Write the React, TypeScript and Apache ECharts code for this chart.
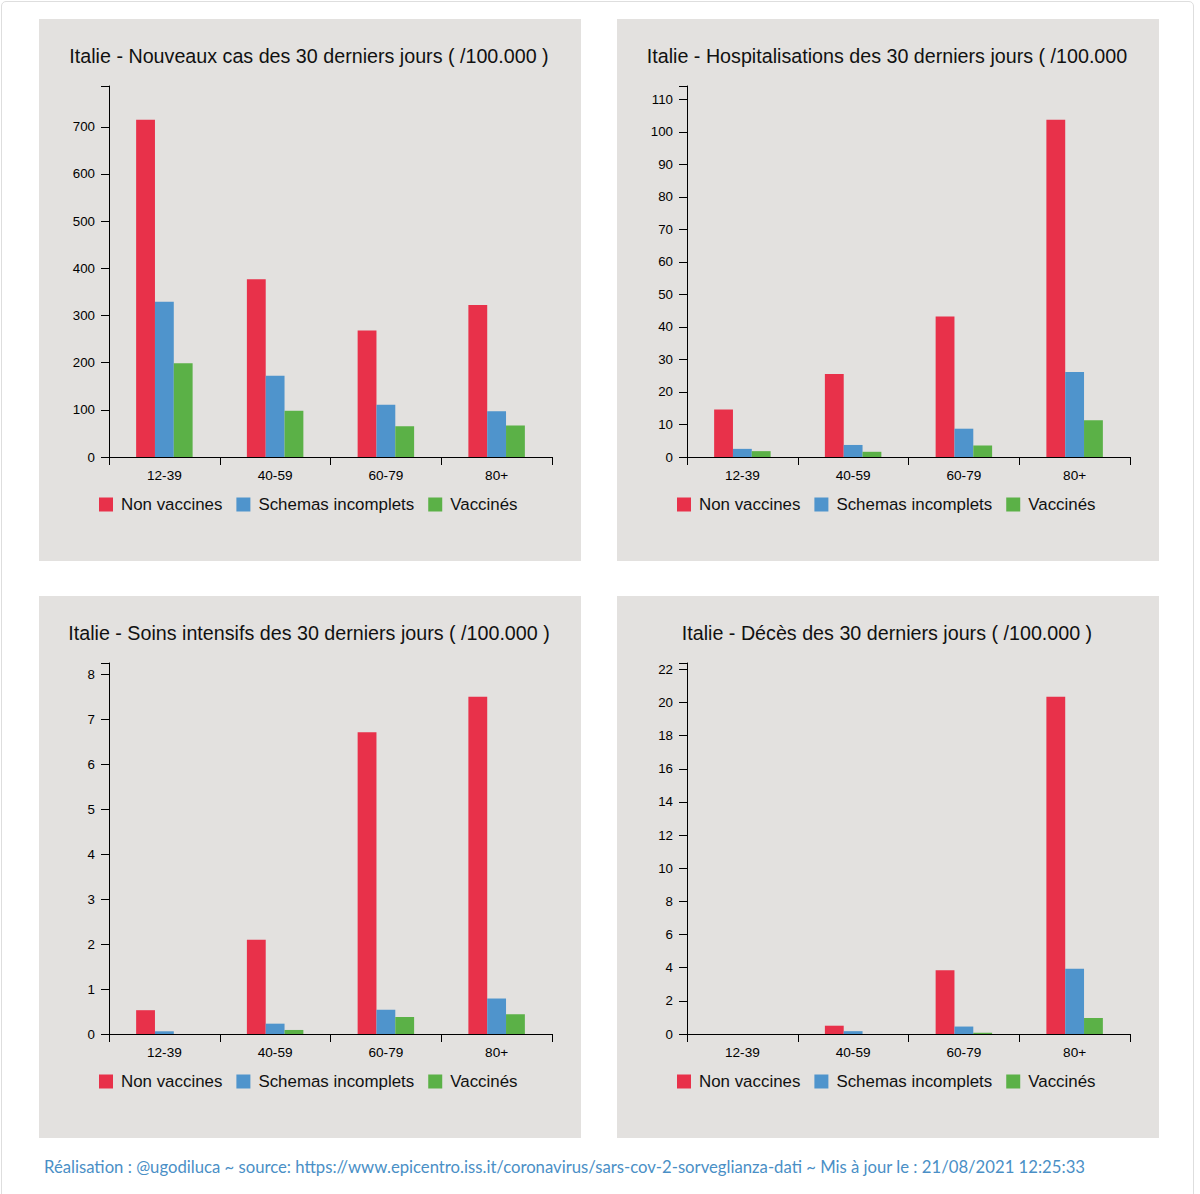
import React, { useEffect, useRef } from "react";
import * as echarts from "echarts";

const categories = ["12-39", "40-59", "60-79", "80+"];
const seriesNames = ["Non vaccines", "Schemas incomplets", "Vaccinés"];
const seriesColors = ["#e8314a", "#4f94cc", "#5bb147"];

const casNonVacc = [715, 377, 268, 322];
const casIncomplet = [329, 172, 111, 97];
const casVacc = [199, 98, 65, 67];

const hospNonVacc = [14.6, 25.5, 43.2, 103.7];
const hospIncomplet = [2.5, 3.7, 8.7, 26.1];
const hospVacc = [1.8, 1.6, 3.5, 11.3];

const tiNonVacc = [0.53, 2.1, 6.72, 7.51];
const tiIncomplet = [0.06, 0.23, 0.54, 0.79];
const tiVacc = [0, 0.09, 0.38, 0.44];

const decesNonVacc = [0, 0.5, 3.85, 20.35];
const decesIncomplet = [0, 0.17, 0.45, 3.93];
const decesVacc = [0, 0, 0.08, 0.97];

const titles = [
  "Italie - Nouveaux cas des 30 derniers jours ( /100.000 )",
  "Italie - Hospitalisations des 30 derniers jours ( /100.000",
  "Italie - Soins intensifs des 30 derniers jours ( /100.000 )",
  "Italie - Décès des 30 derniers jours ( /100.000 )",
];
const intervals = [100, 10, 1, 2];
const panelData = [
  [casNonVacc, casIncomplet, casVacc],
  [hospNonVacc, hospIncomplet, hospVacc],
  [tiNonVacc, tiIncomplet, tiVacc],
  [decesNonVacc, decesIncomplet, decesVacc],
];
const footerText =
  "Réalisation : @ugodiluca ~ source: https://www.epicentro.iss.it/coronavirus/sars-cov-2-sorveglianza-dati ~ Mis à jour le : 21/08/2021 12:25:33";

const FONT = "'Liberation Sans', Arial, Helvetica, sans-serif";
const PANEL = 542;

function Panel({ idx, left, top }: { idx: number; left: number; top: number }) {
  const ref = useRef<HTMLDivElement>(null);
  useEffect(() => {
    if (!ref.current) return;
    const chart = echarts.init(ref.current, undefined, { renderer: "svg" });
    const data = panelData[idx];
    const interval = intervals[idx];
    let maxVal = 0;
    data.forEach((arr) => arr.forEach((v) => (maxVal = Math.max(maxVal, v))));
    const yMax = maxVal * 1.1;
    chart.setOption({
      animation: false,
      backgroundColor: "#e3e1df",
      textStyle: { fontFamily: FONT },
      graphic: [
        {
          type: "text",
          x: 270,
          y: 37,
          style: {
            text: titles[idx],
            fontSize: 19.7,
            fontFamily: FONT,
            fill: "#111",
            textAlign: "center",
            textVerticalAlign: "middle",
          },
        },
      ],
      legend: {
        left: 55,
        top: 472,
        itemWidth: 14,
        itemHeight: 14,
        itemGap: 14,
        icon: "rect",
        data: seriesNames,
        textStyle: { fontSize: 16.9, color: "#111", fontFamily: FONT, padding: [0, 0, 0, 3] },
      },
      grid: { left: 70, right: 29, top: 67, bottom: 104 },
      xAxis: {
        type: "category",
        data: categories,
        axisLine: { show: true, lineStyle: { color: "#000", width: 1 } },
        axisTick: { show: true, length: 8, lineStyle: { color: "#000" } },
        axisLabel: { margin: 11, fontSize: 13.6, color: "#000", fontFamily: FONT },
        splitLine: { show: false },
      },
      yAxis: {
        type: "value",
        min: 0,
        max: yMax,
        interval: interval,
        axisLine: { show: true, lineStyle: { color: "#000", width: 1 } },
        axisTick: { show: true, length: 8, lineStyle: { color: "#000" } },
        axisLabel: {
          margin: 14,
          fontSize: 13.3,
          color: "#000",
          fontFamily: FONT,
          showMaxLabel: true,
          formatter: (v: number) => {
            const r = v / interval;
            return Math.abs(r - Math.round(r)) < 1e-6 ? String(Math.round(v * 1000) / 1000) : "";
          },
        },
        splitLine: { show: false },
      },
      series: seriesNames.map((name, i) => ({
        name,
        type: "bar",
        data: data[i],
        barGap: "0%",
        barCategoryGap: "49%",
        itemStyle: { color: seriesColors[i] },
      })),
    });
    return () => chart.dispose();
  }, [idx]);
  return (
    <div
      ref={ref}
      style={{ position: "absolute", left, top, width: PANEL, height: PANEL }}
    />
  );
}

export default function App() {
  return (
    <div
      style={{
        position: "fixed",
        left: 0,
        top: 0,
        width: 1200,
        height: 1194,
        background: "#fff",
        overflow: "hidden",
      }}
    >
      <div
        style={{
          position: "absolute",
          left: 1,
          top: 1,
          width: 1193,
          height: 1220,
          border: "1px solid #dedede",
          borderRadius: 5,
          boxSizing: "border-box",
        }}
      />
      <Panel idx={0} left={39} top={19} />
      <Panel idx={1} left={617} top={19} />
      <Panel idx={2} left={39} top={596} />
      <Panel idx={3} left={617} top={596} />
      <div
        style={{
          position: "absolute",
          left: 44,
          top: 1157,
          fontFamily: "Lato, 'Open Sans', sans-serif",
          fontSize: 16.7,
          lineHeight: "21px",
          color: "#4a8fc6",
          whiteSpace: "nowrap",
        }}
      >
        {footerText}
      </div>
    </div>
  );
}
